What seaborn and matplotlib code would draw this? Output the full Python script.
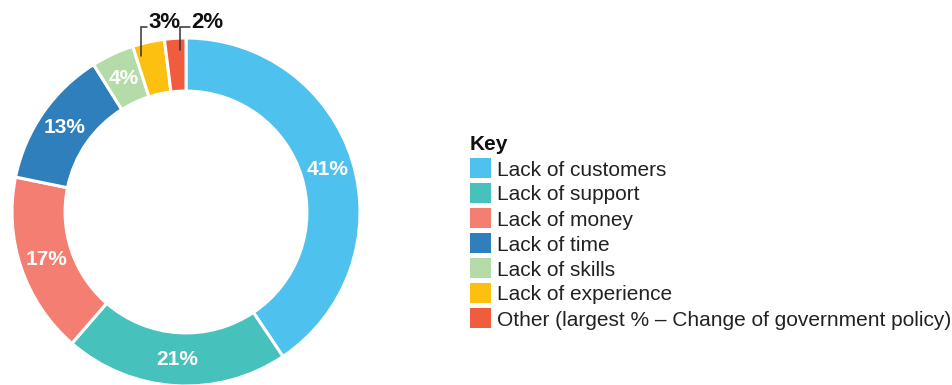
import numpy as np
import matplotlib
matplotlib.use("Agg")
import matplotlib.pyplot as plt
from matplotlib.patches import Rectangle
import seaborn as sns

# ---- data ----
categories = ["Lack of customers", "Lack of support", "Lack of money", "Lack of time",
              "Lack of skills", "Lack of experience",
              "Other (largest % \u2013 Change of government policy)"]
values = [41, 21, 17, 13, 4, 3, 2]
labels = ["41%", "21%", "17%", "13%", "4%", "3%", "2%"]
colors = ["#4EC1EE", "#47C1BC", "#F47E72", "#2E7FBB", "#B5DCA8", "#FDC010", "#F15C3E"]
outside = [False, False, False, False, False, True, True]

sns.set_theme(style="white")
plt.rcParams["font.family"] = ["Liberation Sans", "DejaVu Sans"]

W, H = 952, 385
fig = plt.figure(figsize=(W / 100, H / 100), dpi=100)

# donut placement in pixels
cx, cy, R = 186, 212, 174
ax = fig.add_axes([(cx - R) / W, (H - cy - R) / H, 2 * R / W, 2 * R / H])
ring = 0.305
wedges, _ = ax.pie(values, colors=colors, startangle=90, counterclock=False,
                   radius=1.0,
                   wedgeprops=dict(width=ring, edgecolor="white", linewidth=2.2))
ax.set_xlim(-1, 1)
ax.set_ylim(-1, 1)
ax.set_aspect("equal")
ax.axis("off")

mid_r = 1 - ring / 2
leader_offsets = {5: 3.5, 6: -1.6}   # degrees, layout tweak for leader anchors
leader_tail = {5: 0.03, 6: 0.055}
y_level = (cy - 27) / R
for i, (w, lab) in enumerate(zip(wedges, labels)):
    ang = np.deg2rad((w.theta1 + w.theta2) / 2)
    if not outside[i]:
        ax.text(mid_r * np.cos(ang), mid_r * np.sin(ang), lab, color="white",
                fontsize=15, fontweight="bold", ha="center", va="center")
    else:
        a = np.deg2rad((w.theta1 + w.theta2) / 2 + leader_offsets.get(i, 0))
        x0, y0 = 0.93 * np.cos(a), 0.93 * np.sin(a)
        t = leader_tail.get(i, 0.03)
        ax.plot([x0, x0, x0 + t], [y0, y_level, y_level], color="#333333",
                lw=1.1, clip_on=False, solid_joinstyle="miter")
        ax.text(x0 + t + 0.008, y_level - 0.008, lab, color="#111111", fontsize=16,
                fontweight="bold", ha="left", va="baseline", clip_on=False)

# legend (key)
lx, key_y = 470, 150
fig.text(lx / W, 1 - key_y / H, "Key", fontsize=15, fontweight="bold",
         color="#111111", ha="left", va="baseline")
for i, (cat, col) in enumerate(zip(categories, colors)):
    yc = 168 + 25 * i
    fig.patches.append(Rectangle((lx / W, 1 - (yc + 10) / H), 21 / W, 20 / H,
                                 transform=fig.transFigure, facecolor=col,
                                 edgecolor="none"))
    fig.text(497 / W, 1 - (yc + 7.5) / H, cat, fontsize=15, color="#222222",
             ha="left", va="baseline")

fig.savefig("out.png", dpi=100)
